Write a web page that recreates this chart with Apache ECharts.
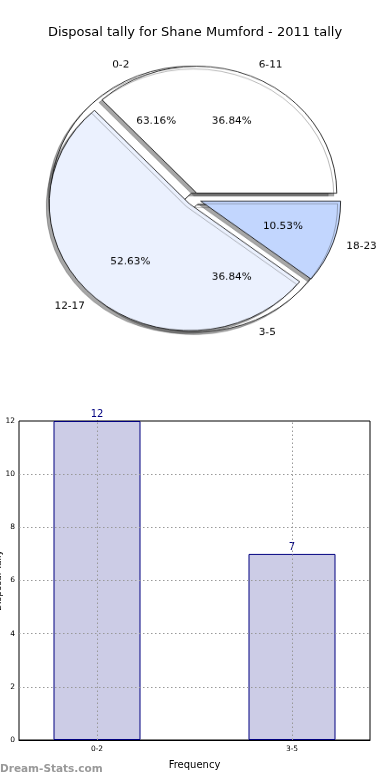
<!DOCTYPE html>
<html><head><meta charset="utf-8">
<script src="https://cdn.jsdelivr.net/npm/echarts@6/dist/echarts.min.js"></script>
<style>
html,body{margin:0;padding:0;background:#fff;}
#main{position:absolute;left:0;top:0;width:390px;height:780px;}
#pie{position:absolute;left:0;top:0;width:390px;height:400px;transform:scaleY(0.907);transform-origin:194px 199px;}
</style></head><body>
<div id="main"></div><div id="pie"></div>
<script>
const chartTitle = 'Disposal tally for Shane Mumford - 2011 tally';
const pieLabels = ['0-2', '3-5', '6-11', '12-17', '18-23'];
const pieValues = [12, 7, 7, 10, 2];
const pieColors = ['#ffffff', '#ffffff', '#ffffff', '#ebf1fe', '#c2d6fe'];
const barCategories = ['0-2', '3-5'];
const barValues = [12, 7];
const yTicks = [0, 2, 4, 6, 8, 10, 12];
const xAxisName = 'Frequency';
const yAxisName = 'Disposal Tally';
const watermark = 'Dream-Stats.com';

const FONT = 'DejaVu Sans';

// the wedge fractions add up to two full turns: split them into laps
const total = pieValues.reduce((a, b) => a + b, 0);
const lapTotal = total / 2;
const laps = [[]];
let acc = 0;
pieValues.forEach((v, i) => {
  if (acc >= lapTotal - 1e-9) { laps.push([]); acc = 0; }
  laps[laps.length - 1].push(i);
  acc += v;
});

const R = 140, C = [194, 199], OFF = 7;
const base = {
  type: 'pie', center: C, startAngle: 0, clockwise: false,
  selectedMode: 'multiple', selectedOffset: OFF, animation: false,
  avoidLabelOverlap: false, emphasis: { disabled: true }
};
const pieSeries = [];
laps.forEach(lap => {
  pieSeries.push(Object.assign({}, base, {
    radius: [0, R], z: 2,
    label: { show: false }, labelLine: { show: false },
    itemStyle: { borderColor: '#000', borderWidth: 0.8, shadowColor: 'rgba(60,60,60,0.45)', shadowOffsetX: -3, shadowOffsetY: 3, shadowBlur: 0 },
    data: lap.map(i => ({ name: pieLabels[i], value: pieValues[i], selected: true, itemStyle: { color: pieColors[i] } }))
  }));
});
laps.forEach(lap => {
  pieSeries.push(Object.assign({}, base, {
    radius: [0, R], z: 5,
    itemStyle: { color: 'rgba(0,0,0,0)', borderWidth: 0 },
    label: { show: true, position: 'outside', formatter: '{b}', color: '#000', fontSize: 10.5, fontFamily: FONT, distanceToLabelLine: 0 },
    labelLine: { show: false, length: 14, length2: 0 },
    data: lap.map(i => ({ name: pieLabels[i], value: pieValues[i], selected: true }))
  }));
  pieSeries.push(Object.assign({}, base, {
    radius: [0, R * 1.2], z: 5,
    itemStyle: { color: 'rgba(0,0,0,0)', borderWidth: 0 },
    label: { show: true, position: 'inside', formatter: '{d}%', color: '#000', fontSize: 10.5, fontFamily: FONT },
    labelLine: { show: false },
    data: lap.map(i => ({ name: pieLabels[i], value: pieValues[i], selected: true }))
  }));
});

const pieChart = echarts.init(document.getElementById('pie'));
pieChart.setOption({ backgroundColor: 'transparent', animation: false, series: pieSeries });

const main = echarts.init(document.getElementById('main'));
main.setOption({
  backgroundColor: '#fff',
  animation: false,
  title: { text: chartTitle, left: 'center', top: 21, textStyle: { fontSize: 13, fontWeight: 'normal', color: '#000', fontFamily: FONT } },
  grid: { left: 19, right: 20, top: 421, bottom: 40, outerBoundsMode: 'none', containLabel: false, show: true, borderColor: '#000', borderWidth: 1, backgroundColor: 'transparent' },
  xAxis: {
    type: 'value', min: -0.4, max: 1.4,
    name: xAxisName, nameLocation: 'middle', nameGap: 20, nameMoveOverlap: false,
    nameTextStyle: { fontSize: 10, color: '#000', fontFamily: FONT },
    axisLine: { show: true, lineStyle: { color: '#000' } },
    axisTick: { show: false }, splitLine: { show: false },
    axisLabel: { customValues: barCategories.map((c, i) => i), formatter: v => barCategories[Math.round(v)], fontSize: 7.5, color: '#000', margin: 5, fontFamily: FONT }
  },
  yAxis: {
    type: 'value', min: yTicks[0], max: yTicks[yTicks.length - 1], interval: 2,
    name: yAxisName, nameLocation: 'middle', nameRotate: 90, nameGap: 16, nameMoveOverlap: false,
    nameTextStyle: { fontSize: 9, color: '#000', fontFamily: FONT },
    axisLine: { show: true, lineStyle: { color: '#000' } },
    axisTick: { show: true, inside: true, length: 3, lineStyle: { color: '#000' } },
    splitLine: { show: false },
    axisLabel: { fontSize: 7.5, color: '#000', margin: 4, fontFamily: FONT }
  },
  series: [{
    type: 'bar',
    data: barValues.map((v, i) => [i, v]),
    barWidth: 87,
    itemStyle: { color: '#ccccE6', borderColor: '#000080', borderWidth: 1 },
    label: { show: true, position: 'top', color: '#000080', fontSize: 10, distance: 2, fontFamily: FONT },
    markLine: {
      silent: true, symbol: 'none', label: { show: false }, animation: false,
      lineStyle: { type: [1.5, 2.5], color: '#999', width: 1 },
      data: barCategories.map((c, i) => ({ xAxis: i })).concat(yTicks.slice(1, -1).map(t => ({ yAxis: t })))
    }
  }],
  graphic: [{ type: 'text', left: 0, top: 764, style: { text: watermark, fill: '#999', font: 'bold 10.5px "DejaVu Sans"' } }]
});
</script>
</body></html>
